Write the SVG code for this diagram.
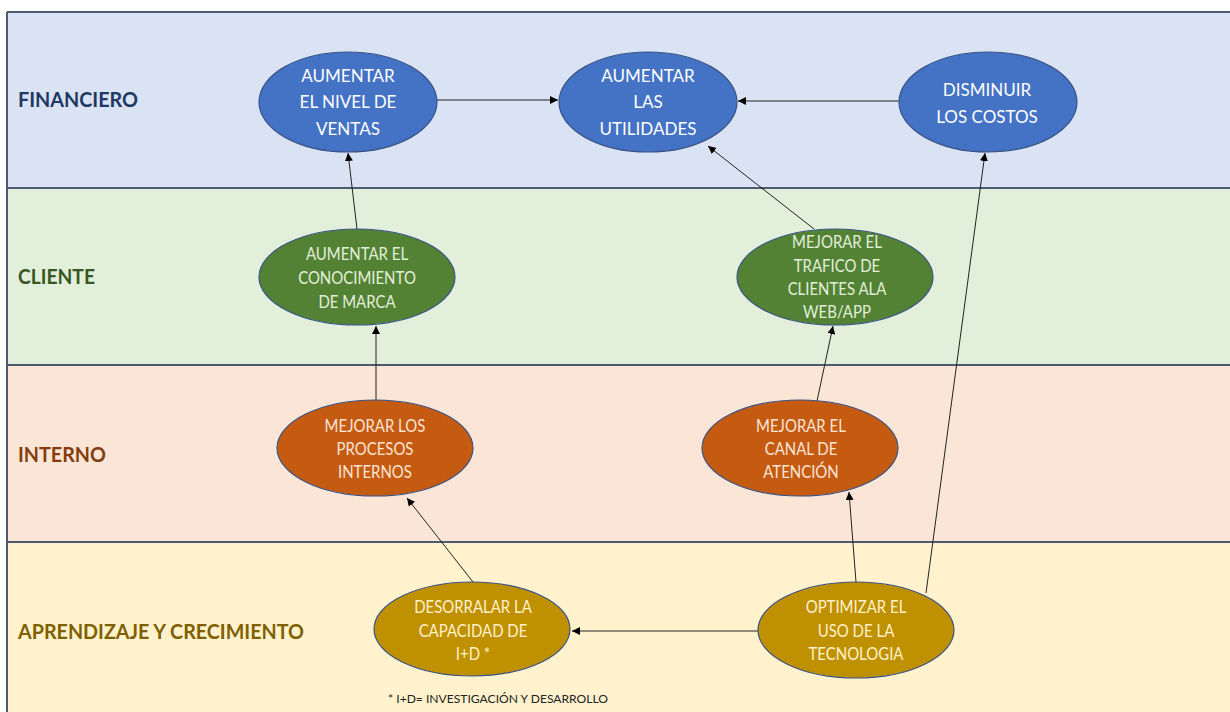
<svg xmlns="http://www.w3.org/2000/svg" width="1230" height="712" viewBox="0 0 1230 712">
<defs>
<marker id="ah" viewBox="0 0 10 10" refX="10" refY="5" markerWidth="8" markerHeight="8" markerUnits="userSpaceOnUse" orient="auto">
<path d="M0,0 L10,5 L0,10 z" fill="#000"/>
</marker>
<style>
.band-line{stroke:#4d5a70;stroke-width:2;fill:none}
.lbl{font-family:Lato,"Liberation Sans",sans-serif;font-weight:bold;font-size:20px}
.nt{font-family:Lato,"Liberation Sans",sans-serif;font-size:17px;text-anchor:middle}
.el{stroke:#3b5487;stroke-width:1.2}
.blue{fill:#4472c4}
.green{fill:#548235}
.orange{fill:#c55a11}
.gold{fill:#bf9000}
.conn line{stroke:#222;stroke-width:1;marker-end:url(#ah)}
</style>
</defs>
<rect x="0" y="0" width="1230" height="712" fill="#ffffff"/>
<g id="bands">
<rect x="7" y="12" width="1223" height="176" fill="#dae3f3"/>
<rect x="7" y="188" width="1223" height="177" fill="#e2efda"/>
<rect x="7" y="365" width="1223" height="177" fill="#fbe5d6"/>
<rect x="7" y="542" width="1223" height="170" fill="#fff2cc"/>
<line class="band-line" x1="7" y1="12" x2="1230" y2="12"/>
<line class="band-line" x1="7" y1="188" x2="1230" y2="188"/>
<line class="band-line" x1="7" y1="365" x2="1230" y2="365"/>
<line class="band-line" x1="7" y1="542" x2="1230" y2="542"/>
<line class="band-line" x1="7" y1="12" x2="7" y2="712"/>
<text class="lbl" x="18" y="107" fill="#203864" textLength="120" lengthAdjust="spacingAndGlyphs">FINANCIERO</text>
<text class="lbl" x="18" y="284" fill="#385723" textLength="77" lengthAdjust="spacingAndGlyphs">CLIENTE</text>
<text class="lbl" x="18" y="462" fill="#843c0c" textLength="88" lengthAdjust="spacingAndGlyphs">INTERNO</text>
<text class="lbl" x="18" y="639" fill="#7f6000" textLength="286" lengthAdjust="spacingAndGlyphs">APRENDIZAJE Y CRECIMIENTO</text>
<text x="388" y="703" font-family="Lato,'Liberation Sans',sans-serif" font-size="12" fill="#222" textLength="220" lengthAdjust="spacingAndGlyphs">* I+D= INVESTIGACIÓN Y DESARROLLO</text>
</g>
<g id="connectors" class="conn">
<line x1="437" y1="100" x2="558" y2="100"/>
<line x1="899" y1="101" x2="738" y2="101"/>
<line x1="357" y1="229" x2="348" y2="153"/>
<line x1="814" y1="229" x2="708" y2="146"/>
<line x1="926" y1="593" x2="985" y2="153"/>
<line x1="817" y1="401" x2="833" y2="326"/>
<line x1="376" y1="400" x2="376" y2="326"/>
<line x1="473" y1="582" x2="407" y2="498"/>
<line x1="758" y1="631" x2="572" y2="631"/>
<line x1="856" y1="582" x2="849" y2="492"/>
</g>
<g id="n-ventas">
<ellipse class="el blue" cx="348" cy="102" rx="89" ry="50"/>
<text class="nt" fill="#ffffff" font-size="19"><tspan x="348" y="82">AUMENTAR</tspan><tspan x="348" y="108">EL NIVEL DE</tspan><tspan x="348" y="135">VENTAS</tspan></text>
</g>
<g id="n-utilidades">
<ellipse class="el blue" cx="648" cy="102" rx="89" ry="50"/>
<text class="nt" fill="#ffffff" font-size="19"><tspan x="648" y="82">AUMENTAR</tspan><tspan x="648" y="108">LAS</tspan><tspan x="648" y="135">UTILIDADES</tspan></text>
</g>
<g id="n-costos">
<ellipse class="el blue" cx="988" cy="102" rx="89" ry="50"/>
<text class="nt" fill="#ffffff" font-size="19"><tspan x="987" y="96">DISMINUIR</tspan><tspan x="987" y="123">LOS COSTOS</tspan></text>
</g>
<g id="n-conocimiento">
<ellipse class="el green" cx="357" cy="277" rx="98" ry="48"/>
<text class="nt" fill="#e2efda" transform="matrix(0.88 0 0 1 42.84 0)"><tspan x="357" y="260">AUMENTAR EL</tspan><tspan x="357" y="284">CONOCIMIENTO</tspan><tspan x="357" y="308">DE MARCA</tspan></text>
</g>
<g id="n-trafico">
<ellipse class="el green" cx="835" cy="277" rx="98" ry="48"/>
<text class="nt" fill="#e2efda" transform="matrix(0.88 0 0 1 100.44 0)"><tspan x="837" y="248">MEJORAR EL</tspan><tspan x="837" y="272">TRAFICO DE</tspan><tspan x="837" y="295">CLIENTES ALA</tspan><tspan x="837" y="318">WEB/APP</tspan></text>
</g>
<g id="n-procesos">
<ellipse class="el orange" cx="375" cy="448" rx="98" ry="48"/>
<text class="nt" fill="#fbe5d6" transform="matrix(0.88 0 0 1 45 0)"><tspan x="375" y="432">MEJORAR LOS</tspan><tspan x="375" y="455">PROCESOS</tspan><tspan x="375" y="478">INTERNOS</tspan></text>
</g>
<g id="n-canal">
<ellipse class="el orange" cx="800" cy="448" rx="98" ry="48"/>
<text class="nt" fill="#fbe5d6" transform="matrix(0.88 0 0 1 96.12 0)"><tspan x="801" y="432">MEJORAR EL</tspan><tspan x="801" y="455">CANAL DE</tspan><tspan x="801" y="478">ATENCIÓN</tspan></text>
</g>
<g id="n-desorralar">
<ellipse class="el gold" cx="472" cy="629" rx="98" ry="47"/>
<text class="nt" fill="#fff2cc" transform="matrix(0.88 0 0 1 56.76 0)"><tspan x="473" y="613">DESORRALAR LA</tspan><tspan x="473" y="637">CAPACIDAD DE</tspan><tspan x="473" y="660">I+D *</tspan></text>
</g>
<g id="n-optimizar">
<ellipse class="el gold" cx="856" cy="630" rx="98" ry="48"/>
<text class="nt" fill="#fff2cc" transform="matrix(0.88 0 0 1 102.72 0)"><tspan x="856" y="613">OPTIMIZAR EL</tspan><tspan x="856" y="637">USO DE LA</tspan><tspan x="856" y="660">TECNOLOGIA</tspan></text>
</g>
</svg>
